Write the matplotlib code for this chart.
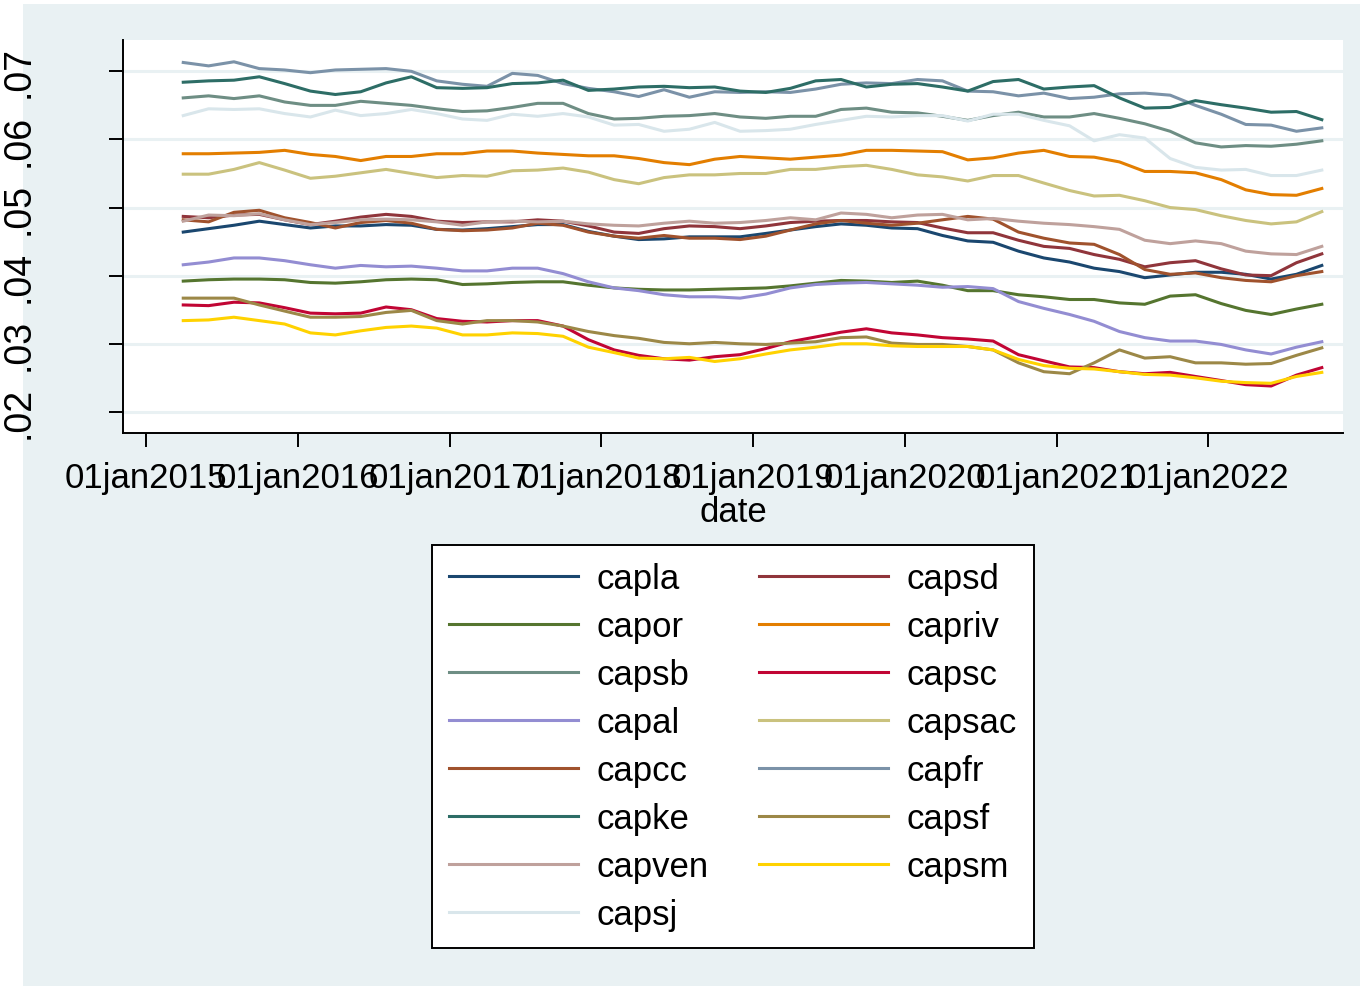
import matplotlib
matplotlib.use('Agg')
import matplotlib.pyplot as plt
import pandas as pd
from matplotlib.patches import Rectangle

plt.rcParams['font.family'] = ['Liberation Sans', 'DejaVu Sans']

# bimonthly dates, Apr 2015 .. Oct 2022
dates = pd.date_range('2015-04-01', '2022-10-01', freq='2MS')

capla = [.0464, .0469, .0474, .0480, .0475, .0470, .0473, .0473, .0475, .0474, .0468, .0467,
         .0469, .0472, .0475, .0475, .0465, .0458, .0453, .0454, .0457, .0457, .0457,
         .0462, .0467, .0472, .0476, .0474, .0470, .0469, .0459, .0451, .0449, .0436, .0426,
         .0420, .0411, .0406, .0397, .0401, .0405, .0405, .0402, .0395, .0402, .0415]
capsd = [.0487, .0485, .0489, .0490, .0482, .0475, .0480, .0486, .0490, .0487, .0480, .0478,
         .0479, .0479, .0482, .0480, .0473, .0464, .0462, .0469, .0473, .0472, .0469,
         .0473, .0478, .0480, .0481, .0481, .0479, .0478, .0470, .0463, .0463, .0452, .0443,
         .0440, .0431, .0424, .0413, .0419, .0422, .0410, .0401, .0400, .0419, .0432]
capor = [.0392, .0394, .0395, .0395, .0394, .0390, .0389, .0391, .0394, .0395, .0394, .0387,
         .0388, .0390, .0391, .0391, .0386, .0382, .0380, .0379, .0379, .0380, .0381,
         .0382, .0385, .0389, .0393, .0392, .0390, .0392, .0386, .0378, .0378, .0372, .0369,
         .0365, .0365, .0360, .0358, .0370, .0372, .0359, .0349, .0343, .0351, .0358]
capriv = [.0579, .0579, .0580, .0581, .0584, .0578, .0575, .0569, .0575, .0575, .0579, .0579,
          .0583, .0583, .0580, .0578, .0576, .0576, .0572, .0566, .0563, .0571, .0575,
          .0573, .0571, .0574, .0577, .0584, .0584, .0583, .0582, .0570, .0573, .0580, .0584,
          .0575, .0574, .0567, .0553, .0553, .0551, .0541, .0526, .0519, .0518, .0528]
capsb = [.0661, .0664, .0660, .0664, .0655, .0650, .0650, .0656, .0653, .0650, .0645, .0641,
         .0642, .0647, .0653, .0653, .0638, .0630, .0631, .0634, .0635, .0638, .0633,
         .0631, .0634, .0634, .0644, .0646, .0640, .0639, .0634, .0628, .0635, .0640, .0633,
         .0633, .0638, .0631, .0623, .0612, .0595, .0589, .0591, .0590, .0593, .0598]
capsc = [.0357, .0356, .0361, .0360, .0353, .0345, .0344, .0345, .0354, .0350, .0337, .0333,
         .0332, .0334, .0334, .0326, .0306, .0291, .0283, .0278, .0276, .0281, .0284,
         .0293, .0303, .0310, .0317, .0322, .0316, .0313, .0309, .0307, .0304, .0284, .0275,
         .0266, .0265, .0259, .0256, .0258, .0252, .0246, .0240, .0238, .0254, .0265]
capal = [.0416, .0420, .0426, .0426, .0422, .0416, .0411, .0415, .0413, .0414, .0411, .0407,
         .0407, .0411, .0411, .0403, .0391, .0382, .0378, .0372, .0369, .0369, .0367,
         .0373, .0382, .0387, .0389, .0390, .0388, .0386, .0383, .0384, .0381, .0362, .0352,
         .0343, .0333, .0318, .0309, .0304, .0304, .0299, .0291, .0285, .0295, .0303]
capsac = [.0549, .0549, .0556, .0566, .0555, .0543, .0546, .0551, .0556, .0550, .0544, .0547,
          .0546, .0554, .0555, .0558, .0552, .0541, .0535, .0544, .0548, .0548, .0550,
          .0550, .0556, .0556, .0560, .0562, .0556, .0548, .0545, .0539, .0547, .0547, .0536,
          .0525, .0517, .0518, .0510, .0500, .0497, .0488, .0481, .0476, .0479, .0494]
capcc = [.0482, .0479, .0493, .0496, .0485, .0478, .0470, .0478, .0481, .0477, .0468, .0466,
         .0467, .0470, .0477, .0474, .0464, .0458, .0455, .0459, .0455, .0455, .0453,
         .0458, .0467, .0476, .0481, .0477, .0474, .0477, .0482, .0487, .0483, .0464, .0455,
         .0448, .0446, .0431, .0409, .0402, .0404, .0397, .0393, .0391, .0400, .0406]
capfr = [.0713, .0708, .0714, .0704, .0702, .0698, .0702, .0703, .0704, .0700, .0686, .0681,
         .0678, .0697, .0694, .0682, .0675, .0670, .0663, .0673, .0662, .0670, .0669,
         .0670, .0669, .0674, .0681, .0683, .0682, .0688, .0686, .0671, .0670, .0664, .0668,
         .0660, .0662, .0667, .0668, .0665, .0650, .0637, .0622, .0621, .0612, .0617]
capke = [.0684, .0686, .0687, .0692, .0682, .0671, .0666, .0670, .0683, .0692, .0676, .0675,
         .0676, .0682, .0683, .0687, .0672, .0674, .0677, .0678, .0676, .0677, .0671,
         .0669, .0675, .0686, .0688, .0677, .0681, .0682, .0677, .0671, .0685, .0688, .0674,
         .0677, .0679, .0661, .0646, .0647, .0657, .0651, .0646, .0640, .0641, .0629]
capsf = [.0367, .0367, .0367, .0357, .0348, .0339, .0339, .0340, .0346, .0349, .0334, .0329,
         .0334, .0334, .0332, .0326, .0318, .0312, .0308, .0302, .0300, .0302, .0300,
         .0299, .0301, .0303, .0309, .0310, .0301, .0299, .0299, .0296, .0291, .0272, .0259,
         .0256, .0272, .0291, .0279, .0281, .0272, .0272, .0270, .0271, .0283, .0294]
capven = [.0480, .0489, .0488, .0491, .0482, .0475, .0478, .0482, .0483, .0482, .0479, .0474,
          .0479, .0480, .0479, .0480, .0476, .0474, .0473, .0477, .0480, .0477, .0478,
          .0481, .0485, .0482, .0492, .0490, .0485, .0489, .0490, .0482, .0484, .0480, .0477,
          .0475, .0472, .0468, .0452, .0447, .0451, .0447, .0436, .0432, .0431, .0443]
capsm = [.0334, .0335, .0339, .0334, .0329, .0316, .0313, .0319, .0324, .0326, .0323, .0313,
         .0313, .0316, .0315, .0311, .0295, .0287, .0279, .0278, .0280, .0274, .0278,
         .0285, .0291, .0295, .0300, .0300, .0297, .0296, .0296, .0296, .0291, .0277, .0268,
         .0264, .0263, .0259, .0255, .0254, .0250, .0245, .0243, .0242, .0252, .0258]
capsj = [.0635, .0645, .0644, .0645, .0638, .0633, .0643, .0635, .0638, .0644, .0638, .0630,
         .0628, .0637, .0634, .0638, .0633, .0621, .0622, .0612, .0615, .0625, .0612,
         .0613, .0615, .0622, .0628, .0634, .0633, .0635, .0635, .0627, .0637, .0637, .0628,
         .0620, .0598, .0607, .0602, .0572, .0559, .0555, .0556, .0547, .0547, .0555]

names = ['capla', 'capsd', 'capor', 'capriv', 'capsb', 'capsc', 'capal', 'capsac',
         'capcc', 'capfr', 'capke', 'capsf', 'capven', 'capsm', 'capsj']
series = [capla, capsd, capor, capriv, capsb, capsc, capal, capsac,
          capcc, capfr, capke, capsf, capven, capsm, capsj]
# Stata s2color palette
colors = ['#1a476f', '#90353b', '#55752f', '#e37e00', '#6e8e84', '#c10534', '#938dd2',
          '#cac27e', '#a0522d', '#7b92a8', '#2d6d66', '#9c8847', '#bfa19c', '#ffd200',
          '#d9e6eb']

year_ticks = pd.to_datetime(['2015-01-01', '2016-01-01', '2017-01-01', '2018-01-01',
                             '2019-01-01', '2020-01-01', '2021-01-01', '2022-01-01'])
year_labels = ['01jan2015', '01jan2016', '01jan2017', '01jan2018',
               '01jan2019', '01jan2020', '01jan2021', '01jan2022']
y_ticks = [.02, .03, .04, .05, .06, .07]
y_labels = ['.02', '.03', '.04', '.05', '.06', '.07']

bg = '#e9f1f3'

fig = plt.figure(figsize=(13.6, 9.87), dpi=100)
fig.patch.set_facecolor('white')
fig.add_artist(Rectangle((23 / 1360, 0), 1 - 23 / 1360, 982 / 987,
                         transform=fig.transFigure, facecolor=bg,
                         edgecolor='none', zorder=-1))

ax = fig.add_axes([123 / 1360, 553 / 987, 1220 / 1360, 393 / 987])
ax.set_facecolor('white')

lines = []
for name, vals, c in zip(names, series, colors):
    ln, = ax.plot(dates, vals, color=c, lw=2.2, label=name, solid_joinstyle='round')
    lines.append(ln)

ax.set_ylim(0.0169, 0.0746)
ax.set_xlim(pd.Timestamp('2014-11-07'), pd.Timestamp('2022-11-21'))
ax.set_yticks(y_ticks)
ax.set_yticklabels(y_labels, rotation=90, va='center', fontsize=27)
ax.set_xticks(year_ticks)
ax.set_xticklabels(year_labels, fontsize=25)
ax.tick_params(axis='y', length=10, width=1.4, pad=52)
ax.tick_params(axis='x', length=10, width=1.4, pad=10)
ax.yaxis.grid(True, color=bg, lw=2.2)
ax.set_axisbelow(True)
for s in ['top', 'right']:
    ax.spines[s].set_visible(False)
for s in ['left', 'bottom']:
    ax.spines[s].set_linewidth(1.4)
ax.set_xlabel('date', fontsize=25, labelpad=1)

# legend is row-major in Stata: reorder for matplotlib's column-major fill
order = list(range(0, 15, 2)) + list(range(1, 15, 2))
leg = fig.legend([lines[i] for i in order], [names[i] for i in order],
                 ncol=2, loc='upper center', bbox_to_anchor=(733 / 1360, 441 / 987),
                 borderaxespad=0, fontsize=25, frameon=True, fancybox=False,
                 framealpha=1, facecolor='white', handlelength=3.7,
                 handletextpad=0.55, columnspacing=1.45, labelspacing=0.43,
                 borderpad=0.5)
leg.get_frame().set_edgecolor('black')
leg.get_frame().set_linewidth(1.4)
for h in leg.legend_handles:
    h.set_linewidth(2.2)

fig.savefig('out.png', dpi=100)
